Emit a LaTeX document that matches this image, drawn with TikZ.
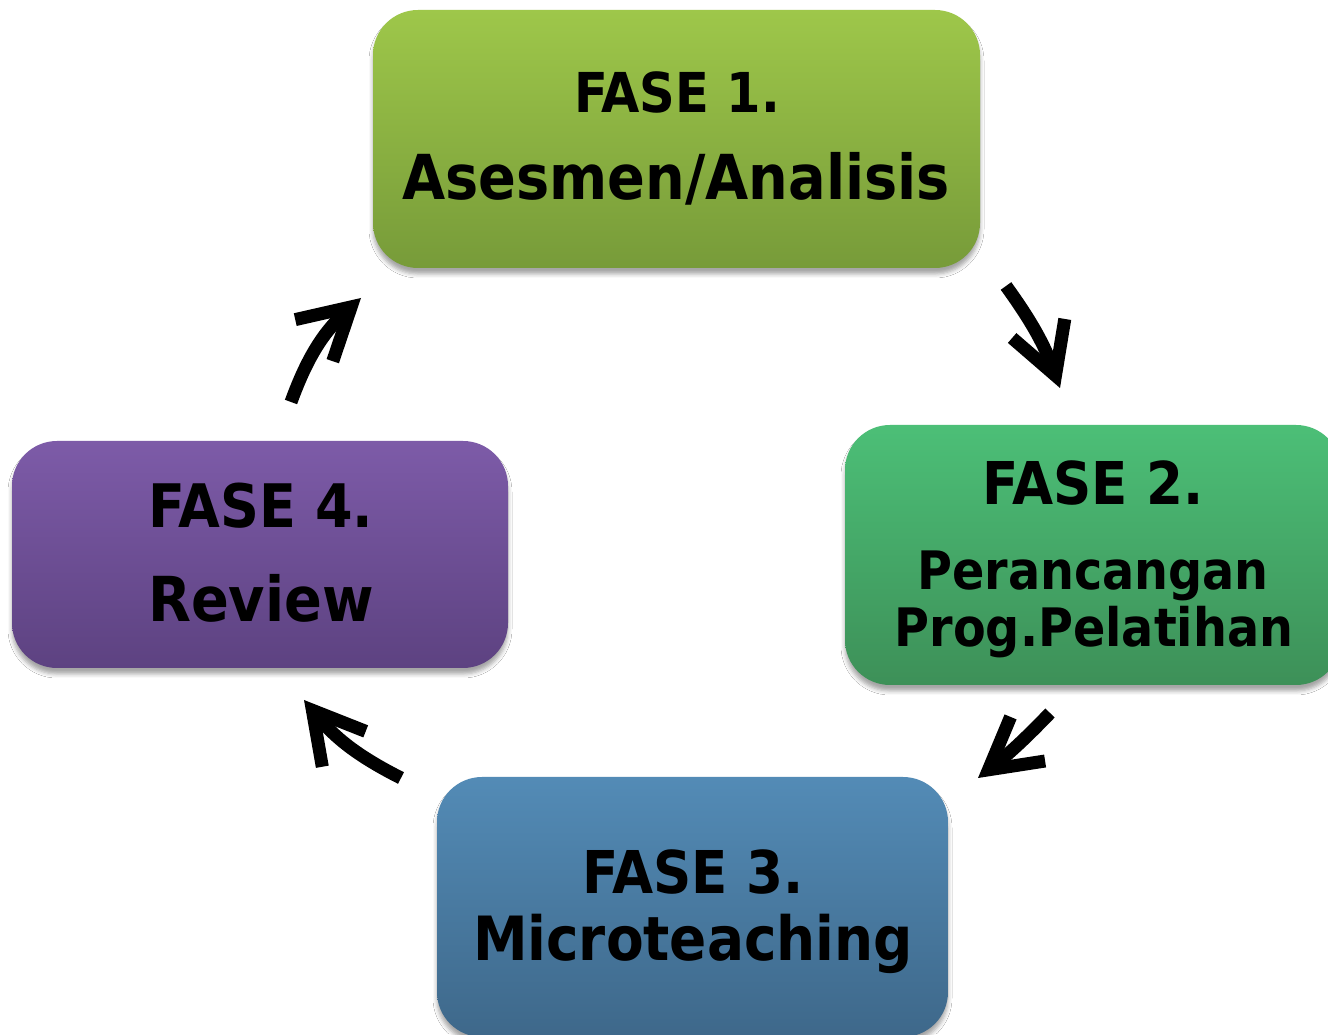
\documentclass[tikz,border=0pt]{standalone}
\usepackage{fontspec}
\usepackage{xcolor}
\usepackage{tikz}
\usetikzlibrary{arrows.meta}
\usetikzlibrary{shadows.blur}
\usetikzlibrary{positioning}
\newfontfamily\faseFont{DejaVu Sans Condensed Bold}
\definecolor{faseOneTop}{RGB}{158,199,74}
\definecolor{faseOneBot}{RGB}{119,155,57}
\definecolor{faseTwoTop}{RGB}{76,191,119}
\definecolor{faseTwoBot}{RGB}{61,144,88}
\definecolor{faseThreeTop}{RGB}{83,139,182}
\definecolor{faseThreeBot}{RGB}{62,104,138}
\definecolor{faseFourTop}{RGB}{125,91,168}
\definecolor{faseFourBot}{RGB}{93,66,129}
\tikzstyle{faseBox} = [rectangle,rounded corners=45pt,inner sep=0pt,
  blur shadow={shadow xshift=0pt,shadow yshift=-6pt,shadow blur radius=4pt,
    shadow blur extra rounding=4pt,shadow opacity=35}]
\tikzstyle{faseText} = [anchor=base,inner sep=0pt]
\tikzstyle{cycleArrow} = [line width=13pt,line cap=butt,
  -{Straight Barb[length=50pt,width=56pt,line width=13pt]}]

\begin{document}
\begin{tikzpicture}[x=1pt,y=1pt]

  \useasboundingbox[fill=white] (0,0) rectangle (1328,1034);

  % the four boxes
  \node[faseBox,minimum width=607pt,minimum height=258pt,
        top color=faseOneTop,bottom color=faseOneBot] (Asesmen) at (676.5,895) {};
  \node[faseBox,minimum width=496pt,minimum height=260pt,
        top color=faseTwoTop,bottom color=faseTwoBot] (Perancangan) at (1093,479) {};
  \node[faseBox,minimum width=511pt,minimum height=260pt,
        top color=faseThreeTop,bottom color=faseThreeBot] (Micro) at (692.5,127) {};
  \node[faseBox,minimum width=496pt,minimum height=227pt,
        top color=faseFourTop,bottom color=faseFourBot] (Review) at (260,479.5) {};

  % texts
  \node[faseText] (AsesmenA) at (677,921) {\fontsize{55}{55}\faseFont FASE 1.};
  \node[faseText] (AsesmenB) at (676,834) {\fontsize{62}{62}\faseFont Asesmen/Analisis};

  \node[faseText] (PerancanganA) at (1093,529) {\fontsize{59}{59}\faseFont FASE 2.};
  \node[faseText] (PerancanganB) at (1093,444) {\fontsize{53}{53}\faseFont Perancangan};
  \node[faseText] (PerancanganC) at (1094,387) {\fontsize{53}{53}\faseFont Prog.Pelatihan};

  \node[faseText] (MicroA) at (693,141) {\fontsize{59}{59}\faseFont FASE 3.};
  \node[faseText] (MicroB) at (693,74) {\fontsize{61}{61}\faseFont Microteaching};

  \node[faseText] (ReviewA) at (261,506) {\fontsize{60}{60}\faseFont FASE 4.};
  \node[faseText] (ReviewB) at (261,412) {\fontsize{62}{62}\faseFont Review};

  % arrow ends
  \coordinate (OneS)   at (1006,748);
  \coordinate (OneE)   at (1060,646);
  \coordinate (TwoS)   at (1050,321);
  \coordinate (TwoE)   at (978,256);
  \coordinate (ThreeS) at (401,256);
  \coordinate (ThreeE) at (304,334);
  \coordinate (FourS)  at (291,632);
  \coordinate (FourE)  at (361,736);

  \draw[cycleArrow] (OneS) to[bend left=8] (OneE);
  \draw[cycleArrow] (TwoS) to[bend left=4] (TwoE);
  \draw[cycleArrow] (ThreeS) to[bend left=12] (ThreeE);
  \draw[cycleArrow] (FourS) to[bend left=14] (FourE);

\end{tikzpicture}
\end{document}
